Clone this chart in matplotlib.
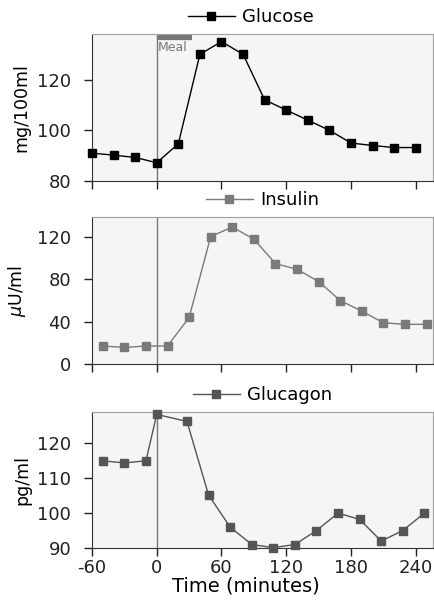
import matplotlib.pyplot as plt
import numpy as np

plt.rcParams['font.family'] = 'DejaVu Sans'
plt.rcParams['axes.unicode_minus'] = False

# time points (minutes)
t_glucose = [-60, -40, -20, 0, 20, 40, 60, 80, 100, 120, 140, 160, 180, 200, 220, 240]
glucose = [91, 90.2, 89.3, 87.2, 94.7, 130, 135, 130, 112, 108, 104, 100, 95, 94, 93.2, 93.2]

t_insulin = [-50, -30, -10, 10, 30, 50, 70, 90, 110, 130, 150, 170, 190, 210, 230, 250]
insulin = [17, 15.7, 17, 17, 44, 120.5, 129.5, 118, 95, 89.5, 78, 60, 50, 39, 37.5, 37.5]

t_glucagon = [-50, -30, -10, 0, 28, 48, 68, 88, 108, 128, 148, 168, 188, 208, 228, 248]
glucagon = [115, 114.4, 115, 128.3, 126.3, 105.2, 96, 91, 90.1, 91, 95, 100, 98.2, 92, 95, 100]

x_ticks = [-60, 0, 60, 120, 180, 240]
meal_start, meal_end = 0, 33

W, H = 435, 603
fig = plt.figure(figsize=(W / 100, H / 100), dpi=100)

def box(l, t, r, b):
    return [l / W, 1 - b / H, (r - l) / W, (b - t) / H]

panels = [
    (box(92, 34, 433, 181), t_glucose, glucose, 'black', 'Glucose', 'mg/100ml', (80, 138), [80, 100, 120], 0.466, 30),
    (box(92, 217, 433, 364), t_insulin, insulin, '#7a7a7a', 'Insulin', '$\\mu$U/ml', (0, 139), [0, 40, 80, 120], 0.50, 28),
    (box(92, 412, 433, 548), t_glucagon, glucagon, '#555555', 'Glucagon', 'pg/ml', (90, 129), [90, 100, 110, 120], 0.50, 31),
]

font_size = 13
axes = []
for rect, tt, vals, col, name, ylab, ylim, yt, lx, ylx in panels:
    ax = fig.add_axes(rect)
    ax.set_facecolor('#f5f5f5')
    ax.plot(tt, vals, color=col, lw=1, marker='s', markersize=6,
            markerfacecolor=col, markeredgecolor=col, label=name, clip_on=False, zorder=3)
    ax.axvline(0, color='#777777', lw=1, zorder=1)
    ax.set_xlim(-60, 256)
    ax.set_ylim(*ylim)
    ax.set_xticks(x_ticks)
    ax.set_yticks(yt)
    ax.tick_params(axis='both', direction='out', length=6, width=1, colors='#222222',
                   labelsize=font_size, labelcolor='#222222')
    ax.tick_params(axis='y', pad=9)
    ax.tick_params(axis='x', pad=2)
    ax.set_ylabel(ylab, fontsize=12.5)
    ax.yaxis.set_label_coords(-(92 - ylx) / 341, 0.5)
    ax.spines['left'].set_color('#333333')
    ax.spines['bottom'].set_color('#333333')
    ax.spines['top'].set_color('#a0a0a0')
    ax.spines['right'].set_color('#a0a0a0')
    leg = ax.legend(loc='lower center', bbox_to_anchor=(lx, 0.98), frameon=False,
                    fontsize=13, handlelength=2.6, borderpad=0.1, handletextpad=0.4)
    axes.append(ax)

for ax in axes[:2]:
    ax.tick_params(axis='x', labelbottom=False)

# meal bar on the glucose panel
g = axes[0]
g.plot([meal_start, meal_end], [137.0, 137.0], color='#777777', lw=4.5, solid_capstyle='butt', zorder=2)
g.text(meal_start + 1, 135.2, 'Meal', color='#777777', fontsize=9, va='top', ha='left')

axes[2].set_xlabel('Time (minutes)', fontsize=14)
axes[2].xaxis.set_label_coords(0.45, -0.21)

plt.savefig('out.png', dpi=100)
